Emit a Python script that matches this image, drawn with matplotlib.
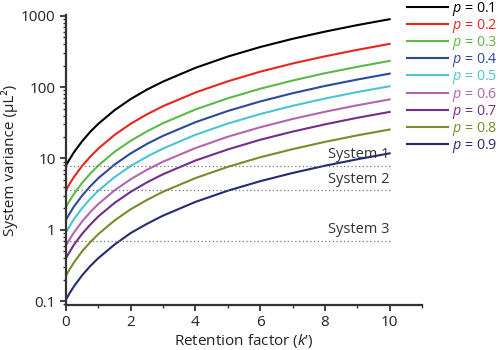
import matplotlib
matplotlib.use("Agg")
import matplotlib.pyplot as plt
from matplotlib.ticker import LogLocator, NullFormatter, FixedLocator

plt.rcParams['font.family'] = ['Open Sans', 'DejaVu Sans']
plt.rcParams['mathtext.fontset'] = 'custom'
plt.rcParams['mathtext.it'] = 'Open Sans:italic'
plt.rcParams['mathtext.rm'] = 'Open Sans'

k = [0, 0.125, 0.25, 0.5, 0.75, 1, 1.5, 2, 2.5, 3, 4, 5, 6, 7, 8, 9, 10]
p_labels = ["0.1", "0.2", "0.3", "0.4", "0.5", "0.6", "0.7", "0.8", "0.9"]
v_p01 = [8.0, 10.0, 12.3, 17.5, 23.7, 30.7, 47.6, 68.2, 92.5, 120, 187, 269, 366, 477, 602, 743, 899]
v_p02 = [3.6, 4.51, 5.54, 7.88, 10.6, 13.8, 21.4, 30.7, 41.6, 54.2, 84.2, 121, 165, 215, 271, 334, 405]
v_p03 = [2.08, 2.61, 3.20, 4.56, 6.15, 7.99, 12.4, 17.7, 24.0, 31.3, 48.7, 69.9, 95.1, 124, 157, 193, 234]
v_p04 = [1.38, 1.73, 2.13, 3.02, 4.08, 5.30, 8.21, 11.8, 16.0, 20.8, 32.3, 46.4, 63.1, 82.2, 104, 128, 155]
v_p05 = [0.92, 1.15, 1.42, 2.01, 2.72, 3.53, 5.47, 7.85, 10.6, 13.8, 21.5, 30.9, 42.0, 54.8, 69.3, 85.5, 103]
v_p06 = [0.60, 0.75, 0.92, 1.31, 1.77, 2.30, 3.57, 5.12, 6.94, 9.03, 14.0, 20.2, 27.4, 35.8, 45.2, 55.7, 67.4]
v_p07 = [0.40, 0.50, 0.62, 0.88, 1.18, 1.54, 2.38, 3.41, 4.62, 6.02, 9.36, 13.4, 18.3, 23.8, 30.1, 37.2, 45.0]
v_p08 = [0.227, 0.285, 0.35, 0.50, 0.67, 0.87, 1.35, 1.94, 2.62, 3.42, 5.31, 7.63, 10.4, 13.5, 17.1, 21.1, 25.5]
v_p09 = [0.105, 0.132, 0.162, 0.23, 0.31, 0.40, 0.62, 0.90, 1.21, 1.58, 2.46, 3.53, 4.80, 6.26, 7.91, 9.75, 11.8]
series = [v_p01, v_p02, v_p03, v_p04, v_p05, v_p06, v_p07, v_p08, v_p09]
colors = ["#000000", "#e8261f", "#5bb947", "#2c4a9a", "#4cc4d4",
          "#b565b0", "#722e88", "#7b8a2c", "#262a72"]

sys_names = ["System 1", "System 2", "System 3"]
sys_values = [7.9, 3.6, 0.70]

fig = plt.figure(figsize=(4.98, 3.5), dpi=100)
ax = fig.add_axes([66/498, 1-305/350, (422-66)/498, (305-15)/350])

for v, c, lab in zip(series, colors, p_labels):
    ax.plot(k, v, color=c, lw=1.5, label=r"$p$ = " + lab)

for name, val in zip(sys_names, sys_values):
    ax.plot([0, 10], [val, val], color="#777777", lw=0.9, ls=(0, (1, 2)))
    ax.text(10, val * 1.12, name, ha="right", va="bottom", fontsize=10.5, color="#333333")

ax.set_yscale("log")
ax.set_xlim(0, 11)
ax.set_ylim(0.088, 1030)
ax.set_xticks([0, 2, 4, 6, 8, 10])
ax.xaxis.set_minor_locator(FixedLocator([1, 3, 5, 7, 9, 11]))
ax.set_yticks([0.1, 1, 10, 100, 1000])
ax.set_yticklabels(["0.1", "1", "10", "100", "1000"])
ax.yaxis.set_minor_locator(LogLocator(base=10, subs=range(2, 10), numticks=20))
ax.yaxis.set_minor_formatter(NullFormatter())

for s in ["top", "right"]:
    ax.spines[s].set_visible(False)
for s in ["left", "bottom"]:
    ax.spines[s].set_linewidth(1.6)
    ax.spines[s].set_color("#333333")
ax.tick_params(which="major", length=4, width=1.3, color="#333333", labelsize=11, labelcolor="#222222")
ax.tick_params(which="minor", length=2.5, width=1.0, color="#333333")

ax.set_xlabel(r"Retention factor ($k$’)", fontsize=11, color="#222222", labelpad=1)
ax.set_ylabel("System variance (μL²)", fontsize=11, color="#222222", labelpad=2)

leg = fig.legend(loc="upper left", bbox_to_anchor=(404/498, 1 + 3/350), frameon=False,
                 fontsize=10.3, handlelength=2.9, handletextpad=0.25, labelspacing=-0.06,
                 labelcolor="linecolor", borderaxespad=0, borderpad=0.2)

fig.savefig("out.png", dpi=100)
